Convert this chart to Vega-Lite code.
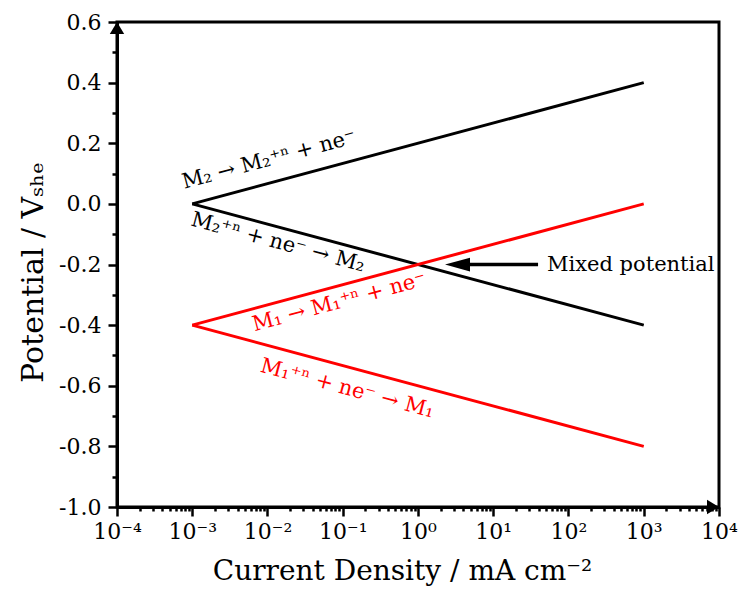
{
  "$schema": "https://vega.github.io/schema/vega-lite/v6.json",
  "width": 602,
  "height": 485,
  "autosize": {"type": "none"},
  "padding": {"left": 117, "top": 22, "right": 20, "bottom": 101},
  "background": "white",
  "config": {
    "font": "DejaVu Serif",
    "view": {"stroke": "black", "strokeWidth": 3},
    "axis": {"grid": false, "domainColor": "black", "domainWidth": 3, "tickColor": "black", "tickWidth": 2.5, "labelColor": "black", "titleColor": "black", "labelFont": "DejaVu Serif", "titleFont": "DejaVu Serif", "titleFontWeight": "normal", "labelFontSize": 22, "titleFontSize": 28}
  },
  "datasets": {
    "lines": [
      {"x": 0.001, "y": 0, "metal": "M2", "branch": "anodic"},
      {"x": 1000, "y": 0.4, "metal": "M2", "branch": "anodic"},
      {"x": 0.001, "y": 0, "metal": "M2", "branch": "cathodic"},
      {"x": 1000, "y": -0.4, "metal": "M2", "branch": "cathodic"},
      {"x": 0.001, "y": -0.4, "metal": "M1", "branch": "anodic"},
      {"x": 1000, "y": 0, "metal": "M1", "branch": "anodic"},
      {"x": 0.001, "y": -0.4, "metal": "M1", "branch": "cathodic"},
      {"x": 1000, "y": -0.8, "metal": "M1", "branch": "cathodic"}
    ],
    "labels": [
      {"x": 0.0105, "y": 0.145, "metal": "M2", "branch": "anodic", "label": "M₂ → M₂⁺ⁿ + ne⁻"},
      {"x": 0.0138, "y": -0.128, "metal": "M2", "branch": "cathodic", "label": "M₂⁺ⁿ + ne⁻ → M₂"},
      {"x": 0.09, "y": -0.325, "metal": "M1", "branch": "anodic", "label": "M₁ → M₁⁺ⁿ + ne⁻"},
      {"x": 0.115, "y": -0.61, "metal": "M1", "branch": "cathodic", "label": "M₁⁺ⁿ + ne⁻ → M₁"}
    ],
    "note": [{"x": 51.8, "y": -0.2, "label": "Mixed potential"}],
    "arrow": [{"x": 3.35, "x2": 39.4, "y": -0.2}],
    "ends": [
      {"x": 0.0001, "y": 0.6, "end": "y"},
      {"x": 10000, "y": -1.0, "end": "x"}
    ]
  },
  "encoding": {
    "x": {
      "field": "x", "type": "quantitative",
      "scale": {"type": "log", "domain": [0.0001, 10000], "nice": false},
      "axis": {
        "title": "Current Density / mA cm⁻²",
        "titleX": 285,
        "titlePadding": 15,
        "values": [0.0001,0.0002,0.0003,0.0004,0.0005,0.0006,0.0007,0.0008,0.0009,0.001,0.002,0.003,0.004,0.005,0.006,0.007,0.008,0.009,0.01,0.02,0.03,0.04,0.05,0.06,0.07,0.08,0.09,0.1,0.2,0.3,0.4,0.5,0.6,0.7,0.8,0.9,1,2,3,4,5,6,7,8,9,10,20,30,40,50,60,70,80,90,100,200,300,400,500,600,700,800,900,1000,2000,3000,4000,5000,6000,7000,8000,9000,10000],
        "labelExpr": "abs(log(datum.value)/LN10 - round(log(datum.value)/LN10)) < 0.001 ? ['10⁻⁴','10⁻³','10⁻²','10⁻¹','10⁰','10¹','10²','10³','10⁴'][round(log(datum.value)/LN10)+4] : ''",
        "tickSize": {"condition": {"test": "abs(log(datum.value)/LN10 - round(log(datum.value)/LN10)) < 0.001", "value": 9}, "value": 4},
        "labelOverlap": false,
        "labelFlush": false,
        "labelBound": false,
        "labelPadding": 5
      }
    },
    "y": {
      "field": "y", "type": "quantitative",
      "scale": {"domain": [-1.0, 0.6], "nice": false, "zero": false},
      "axis": {
        "title": "Potential / Vₛₕₑ",
        "titleFontSize": 30,
        "titleY": 250,
        "titlePadding": 10,
        "values": [-1.0,-0.9,-0.8,-0.7,-0.6,-0.5,-0.4,-0.3,-0.2,-0.1,0,0.1,0.2,0.3,0.4,0.5,0.6],
        "labelExpr": "abs(datum.value*5 - round(datum.value*5)) < 0.001 ? ((datum.value < -0.00001 ? '-' : '') + format(abs(datum.value), '.1f')) : ''",
        "tickSize": {"condition": {"test": "abs(datum.value*5 - round(datum.value*5)) < 0.001", "value": 9}, "value": 5},
        "labelOverlap": false,
        "labelFlush": false,
        "labelBound": false,
        "labelPadding": 7
      }
    }
  },
  "layer": [
    {
      "data": {"name": "lines"},
      "mark": {"type": "line", "strokeWidth": 3},
      "encoding": {
        "color": {"field": "metal", "type": "nominal", "scale": {"domain": ["M2", "M1"], "range": ["#000000", "#ff0000"]}, "legend": null},
        "detail": {"field": "branch"}
      }
    },
    {
      "data": {"name": "labels"},
      "transform": [{"filter": "datum.branch === 'anodic'"}],
      "mark": {"type": "text", "angle": 345, "align": "center", "baseline": "middle", "fontSize": 21},
      "encoding": {
        "text": {"field": "label"},
        "color": {"field": "metal", "type": "nominal", "scale": {"domain": ["M2", "M1"], "range": ["#000000", "#ff0000"]}, "legend": null}
      }
    },
    {
      "data": {"name": "labels"},
      "transform": [{"filter": "datum.branch === 'cathodic'"}],
      "mark": {"type": "text", "angle": 15, "align": "center", "baseline": "middle", "fontSize": 21},
      "encoding": {
        "text": {"field": "label"},
        "color": {"field": "metal", "type": "nominal", "scale": {"domain": ["M2", "M1"], "range": ["#000000", "#ff0000"]}, "legend": null}
      }
    },
    {
      "data": {"name": "note"},
      "mark": {"type": "text", "align": "left", "baseline": "middle", "fontSize": 21, "color": "black"},
      "encoding": {"text": {"field": "label"}}
    },
    {
      "data": {"name": "arrow"},
      "mark": {"type": "rule", "strokeWidth": 3.5, "color": "black"},
      "encoding": {"x2": {"field": "x2"}}
    },
    {
      "data": {"name": "arrow"},
      "mark": {"type": "point", "shape": "M-1,0L1,-0.55L1,0.55Z", "size": 625, "filled": true, "opacity": 1, "color": "black", "strokeWidth": 0},
      "encoding": {}
    },
    {
      "data": {"name": "ends"},
      "transform": [{"filter": "datum.end === 'y'"}],
      "mark": {"type": "point", "shape": "M0,0L1.2,2L-1.2,2Z", "size": 144, "filled": true, "opacity": 1, "color": "black", "strokeWidth": 0, "clip": false},
      "encoding": {}
    },
    {
      "data": {"name": "ends"},
      "transform": [{"filter": "datum.end === 'x'"}],
      "mark": {"type": "point", "shape": "M0,0L-2,-1.2L-2,1.2Z", "size": 144, "filled": true, "opacity": 1, "color": "black", "strokeWidth": 0, "clip": false},
      "encoding": {}
    }
  ]
}
